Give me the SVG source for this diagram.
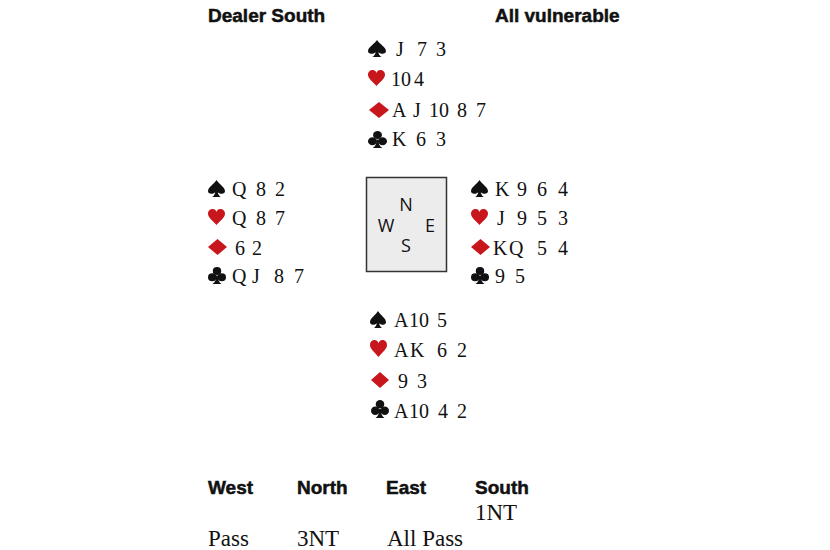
<svg xmlns="http://www.w3.org/2000/svg" width="830" height="550" viewBox="0 0 830 550">
<style>
.hd{font-family:"Liberation Sans",Arial,sans-serif;font-weight:bold;font-size:19px;fill:#111;stroke:#111;stroke-width:0.5}
.cd{font-family:"Liberation Serif",serif;font-size:20px;fill:#111}
.bid{font-family:"Liberation Serif",serif;font-size:23px;fill:#111}
.cmp{font-family:"Open Sans","DejaVu Sans",sans-serif;font-size:18px;font-weight:normal;fill:#111}
.blk{fill:#111}
.red{fill:#c8161d}
</style>
<defs>
<symbol id="sp" viewBox="0 0 20 20" preserveAspectRatio="none"><path d="M10 0C7 5 0 8.5 0 13C0 16.5 4.5 17.5 8.5 14.5C8.2 16.8 7.2 18.5 5 20L15 20C12.8 18.5 11.8 16.8 11.5 14.5C15.5 17.5 20 16.5 20 13C20 8.5 13 5 10 0Z"/></symbol>
<symbol id="ht" viewBox="0 0 20 20" preserveAspectRatio="none"><path d="M10 20C7 15.5 0 11 0 5.8C0 2.2 2.6 0 5.5 0C7.8 0 9.4 1.6 10 3.8C10.6 1.6 12.2 0 14.5 0C17.4 0 20 2.2 20 5.8C20 11 13 15.5 10 20Z"/></symbol>
<symbol id="dm" viewBox="0 0 20 20" preserveAspectRatio="none"><path d="M10 0L20 10L10 20L0 10Z"/></symbol>
<symbol id="cl" viewBox="0 0 20 20" preserveAspectRatio="none"><circle cx="10" cy="4.7" r="4.7"/><circle cx="4.7" cy="12" r="4.7"/><circle cx="15.3" cy="12" r="4.7"/><path d="M9 10C9 15 8 18 5 20L15 20C12 18 11 15 11 10Z"/></symbol>
</defs>

<g id="header">
<text class="hd" x="208" y="22">Dealer South</text>
<text class="hd" x="495" y="22">All vulnerable</text>
</g>

<g id="north">
<use href="#sp" class="blk" x="368" y="40" width="18" height="17"/>
<text class="cd" y="56"><tspan x="396">J</tspan><tspan x="417">7</tspan><tspan x="436">3</tspan></text>
<use href="#ht" class="red" x="368" y="70" width="17" height="16"/>
<text class="cd" y="86"><tspan x="391">10</tspan><tspan x="414">4</tspan></text>
<use href="#dm" class="red" x="369" y="102" width="20" height="16"/>
<text class="cd" y="117"><tspan x="392">A</tspan><tspan x="413">J</tspan><tspan x="429">10</tspan><tspan x="457">8</tspan><tspan x="476">7</tspan></text>
<use href="#cl" class="blk" x="368" y="131" width="19" height="17"/>
<text class="cd" y="146"><tspan x="392">K</tspan><tspan x="416">6</tspan><tspan x="436">3</tspan></text>
</g>

<g id="west">
<use href="#sp" class="blk" x="208" y="180" width="17" height="17"/>
<text class="cd" y="196"><tspan x="232">Q</tspan><tspan x="256">8</tspan><tspan x="275">2</tspan></text>
<use href="#ht" class="red" x="208" y="209" width="17" height="16"/>
<text class="cd" y="225"><tspan x="232">Q</tspan><tspan x="256">8</tspan><tspan x="275">7</tspan></text>
<use href="#dm" class="red" x="208" y="239" width="19" height="16"/>
<text class="cd" y="255"><tspan x="235">6</tspan><tspan x="252">2</tspan></text>
<use href="#cl" class="blk" x="208" y="267" width="18" height="17"/>
<text class="cd" y="283"><tspan x="232">Q</tspan><tspan x="252">J</tspan><tspan x="274">8</tspan><tspan x="294">7</tspan></text>
</g>

<g id="compass">
<rect x="366.5" y="177.5" width="80" height="94" fill="#ececec" stroke="#333" stroke-width="1.5"/>
<text class="cmp" x="406" y="211" text-anchor="middle">N</text>
<text class="cmp" x="386" y="232" text-anchor="middle">W</text>
<text class="cmp" x="430" y="232" text-anchor="middle">E</text>
<text class="cmp" x="406" y="252" text-anchor="middle">S</text>
</g>

<g id="east">
<use href="#sp" class="blk" x="471" y="180" width="17" height="17"/>
<text class="cd" y="196"><tspan x="495">K</tspan><tspan x="517">9</tspan><tspan x="537">6</tspan><tspan x="558">4</tspan></text>
<use href="#ht" class="red" x="471" y="209" width="17" height="16"/>
<text class="cd" y="225"><tspan x="497">J</tspan><tspan x="517">9</tspan><tspan x="537">5</tspan><tspan x="558">3</tspan></text>
<use href="#dm" class="red" x="471" y="239" width="19" height="16"/>
<text class="cd" y="255"><tspan x="493">K</tspan><tspan x="509">Q</tspan><tspan x="537">5</tspan><tspan x="558">4</tspan></text>
<use href="#cl" class="blk" x="471" y="267" width="18" height="17"/>
<text class="cd" y="283"><tspan x="495">9</tspan><tspan x="515">5</tspan></text>
</g>

<g id="south">
<use href="#sp" class="blk" x="370" y="311" width="16" height="17"/>
<text class="cd" y="327"><tspan x="394">A</tspan><tspan x="409">10</tspan><tspan x="437">5</tspan></text>
<use href="#ht" class="red" x="370" y="340" width="17" height="17"/>
<text class="cd" y="357"><tspan x="394">A</tspan><tspan x="410">K</tspan><tspan x="437">6</tspan><tspan x="457">2</tspan></text>
<use href="#dm" class="red" x="371" y="372" width="18" height="16"/>
<text class="cd" y="388"><tspan x="398">9</tspan><tspan x="417">3</tspan></text>
<use href="#cl" class="blk" x="371" y="400" width="18" height="18"/>
<text class="cd" y="418"><tspan x="394">A</tspan><tspan x="409">10</tspan><tspan x="438">4</tspan><tspan x="457">2</tspan></text>
</g>

<g id="auction">
<text class="hd" x="208" y="494">West</text>
<text class="hd" x="297" y="494">North</text>
<text class="hd" x="386" y="494">East</text>
<text class="hd" x="475" y="494">South</text>
<text class="bid" x="475" y="520">1NT</text>
<text class="bid" x="208" y="546">Pass</text>
<text class="bid" x="297" y="546">3NT</text>
<text class="bid" x="387" y="546">All Pass</text>
</g>
</svg>
